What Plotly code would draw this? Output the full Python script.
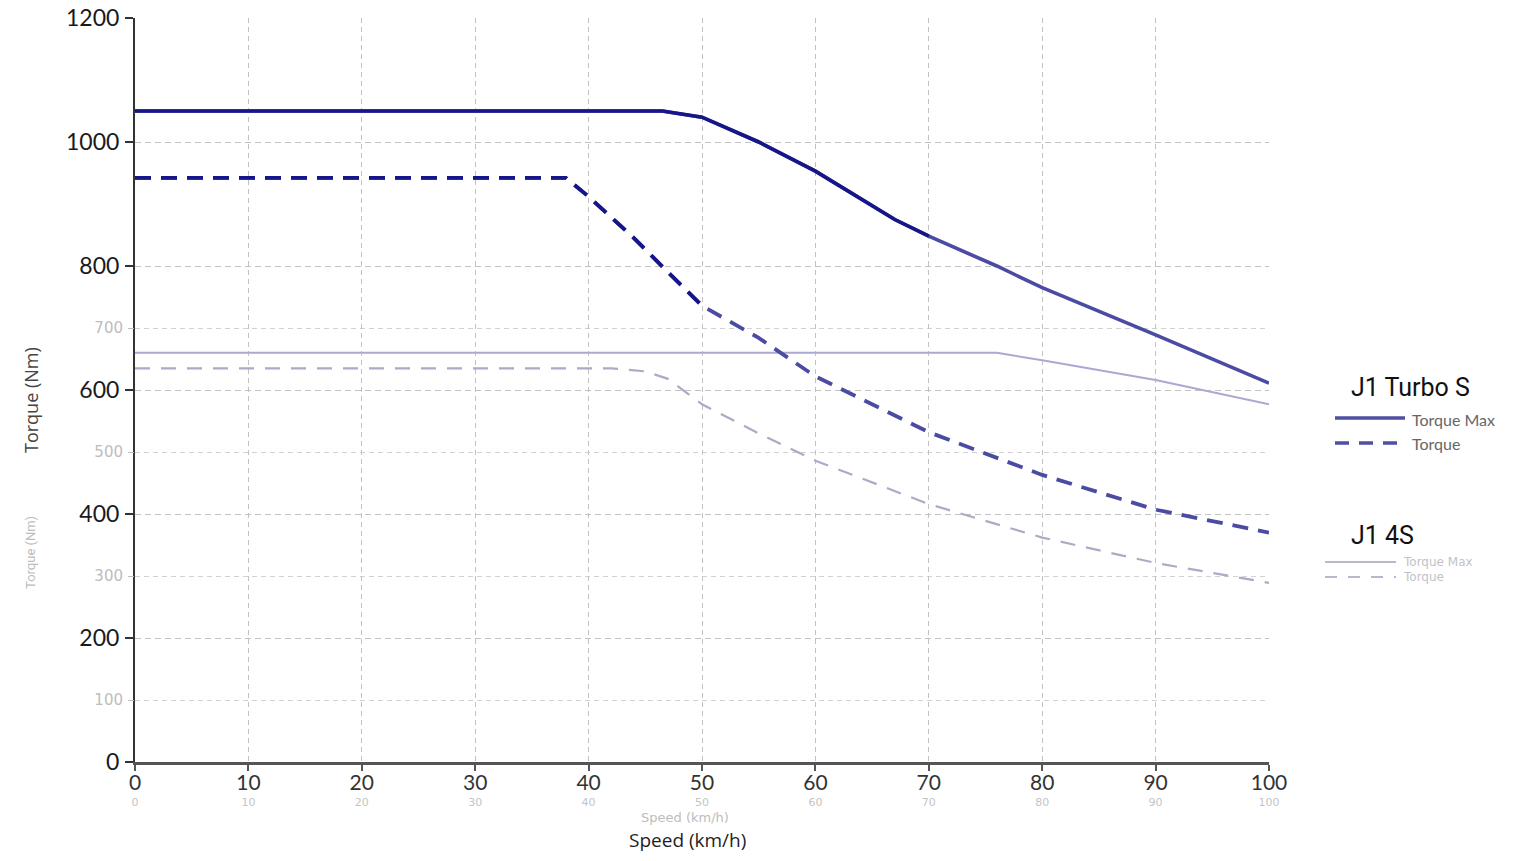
import plotly.graph_objects as go

# ---------------- data ----------------
ts_max_speed = [0, 46.5, 50, 55, 60, 67, 70, 76, 80, 90, 100]
ts_max_torque = [1050, 1050, 1040, 1000, 953, 875, 848, 800, 765, 689, 611]

ts_tq_speed = [0, 38, 40, 44, 47, 50, 55, 60, 70, 78, 80, 90, 100]
ts_tq_torque = [942, 942, 912, 845, 790, 736, 684, 622, 532, 476, 463, 407, 370]

s4_max_speed = [0, 76, 80, 90, 100]
s4_max_torque = [660, 660, 648, 616, 577]

s4_tq_speed = [0, 42, 45, 47, 50, 55, 60, 70, 80, 90, 100]
s4_tq_torque = [635, 635, 630, 618, 577, 530, 486, 416, 362, 321, 289]

x_ticks = [0, 10, 20, 30, 40, 50, 60, 70, 80, 90, 100]
y_ticks_main = [0, 200, 400, 600, 800, 1000, 1200]
y_ticks_light = [100, 300, 500, 700]

# ---------------- styles ----------------
W, H = 1517, 861
L, R, T, B = 135, 248, 18, 99
PW, PH = W - L - R, H - T - B

def px(xp):
    return (xp - L) / PW

def py(yp):
    return (H - B - yp) / PH

NAVY = "#16168a"
PURPLE = "#4b4ba3"
LIGHT_SOLID = "#a9a9d3"
LIGHT_DASH = "#ababc6"
DASH_TS = "16px,10px"
DASH_4S = "15px,11px"

fig = go.Figure()

# J1 4S (light chart) on the base axes x / y
fig.add_trace(go.Scatter(x=s4_max_speed, y=s4_max_torque, mode="lines",
                         name="J1 4S Torque Max", showlegend=False,
                         line=dict(color=LIGHT_SOLID, width=2)))
fig.add_trace(go.Scatter(x=s4_tq_speed, y=s4_tq_torque, mode="lines",
                         name="J1 4S Torque", showlegend=False,
                         line=dict(color=LIGHT_DASH, width=2.2, dash=DASH_4S)))

# J1 Turbo S (dark chart) on the overlay axes x2 / y2
fig.add_trace(go.Scatter(x=ts_max_speed, y=ts_max_torque, mode="lines",
                         name="J1 Turbo S Torque Max", showlegend=False,
                         line=dict(color=PURPLE, width=3.6),
                         xaxis="x2", yaxis="y2"))
fig.add_trace(go.Scatter(x=ts_tq_speed, y=ts_tq_torque, mode="lines",
                         name="J1 Turbo S Torque", showlegend=False,
                         line=dict(color=PURPLE, width=3.8, dash=DASH_TS),
                         xaxis="x2", yaxis="y2"))
# darker tone on the left part (as in the reference)
n_dark_max = 7
n_dark_tq = 6
fig.add_trace(go.Scatter(x=ts_max_speed[:n_dark_max], y=ts_max_torque[:n_dark_max],
                         mode="lines", showlegend=False, hoverinfo="skip",
                         line=dict(color=NAVY, width=3.6),
                         xaxis="x2", yaxis="y2"))
fig.add_trace(go.Scatter(x=ts_tq_speed[:n_dark_tq], y=ts_tq_torque[:n_dark_tq],
                         mode="lines", showlegend=False, hoverinfo="skip",
                         line=dict(color=NAVY, width=3.8, dash=DASH_TS),
                         xaxis="x2", yaxis="y2"))

# ---------------- legend (custom) ----------------
shapes = []
annotations = []

def legend_key(x0, x1, y, color, width, dash=None):
    shapes.append(dict(type="line", xref="paper", yref="paper",
                       x0=px(x0), x1=px(x1), y0=py(y), y1=py(y),
                       line=dict(color=color, width=width, dash=dash or "solid")))

def text(x, y, s, size, color, family, xanchor="left", angle=0):
    annotations.append(dict(x=px(x), y=py(y), xref="paper", yref="paper",
                            text=s, showarrow=False, xanchor=xanchor, yanchor="middle",
                            textangle=angle,
                            font=dict(size=size, color=color, family=family)))

text(1349, 387, "J1 Turbo S", 25, "#111111", "Roboto")
legend_key(1335, 1405, 418, "#4f4fa3", 3.5)
legend_key(1335, 1405, 443, "#4f4fa3", 3.5, "14px,10px")
text(1410, 419, "Torque Max", 16, "#666666", "Lato")
text(1410, 444, "Torque", 16, "#666666", "Lato")

text(1349, 535, "J1 4S", 25, "#111111", "Roboto")
legend_key(1325, 1396, 562, "#b8b8cc", 2)
legend_key(1325, 1396, 577, "#b8b8cc", 2, "12px,11px")
text(1401, 562, "Torque Max", 12, "#c2c2c8", "DejaVu Sans")
text(1401, 577, "Torque", 12, "#c2c2c8", "DejaVu Sans")

# axis titles
text(687, 840, "Speed (km/h)", 19, "#1e1e1e", "Open Sans", xanchor="center")
text(685, 817, "Speed (km/h)", 13, "#bdbdbd", "DejaVu Sans", xanchor="center")
text(31, 400, "Torque (Nm)", 18, "#444444", "Open Sans", xanchor="center", angle=-90)
text(30, 553, "Torque (Nm)", 13, "#bdbdbd", "Roboto", xanchor="center", angle=-90)

GRID = "#c2c2c2"

fig.update_layout(
    width=W, height=H, autosize=False,
    margin=dict(l=L, r=R, t=T, b=B, pad=0, autoexpand=False),
    paper_bgcolor="white", plot_bgcolor="white",
    showlegend=False,
    shapes=shapes, annotations=annotations,
    # light (J1 4S) axes
    xaxis=dict(range=[0, 100], tickmode="array", tickvals=x_ticks,
               tickfont=dict(family="DejaVu Sans", size=11, color="#c4c4c4"),
               ticks="", ticklabelstandoff=32, automargin=False,
               showgrid=False, showline=False, zeroline=False, fixedrange=True),
    yaxis=dict(range=[0, 1200], tickmode="array", tickvals=y_ticks_light,
               tickfont=dict(family="DejaVu Sans", size=15, color="#bdbdbd"),
               ticks="outside", ticklen=6, tickcolor="#bbbbbb",
               ticklabelstandoff=2, automargin=False,
               showgrid=True, gridcolor="#d2d2d2", gridwidth=1.1, griddash="5px,4px",
               showline=False, zeroline=False, fixedrange=True),
    # dark (J1 Turbo S) axes
    xaxis2=dict(range=[0, 100], overlaying="x", anchor="y2", side="bottom",
                tickmode="array", tickvals=x_ticks,
                showline=True, linecolor="#555555", linewidth=2.5,
                ticks="outside", ticklen=6, tickcolor="#555555", tickwidth=1.5,
                tickfont=dict(family="Lato", size=21, color="#333333"),
                ticklabelstandoff=-6, automargin=False,
                showgrid=True, gridcolor=GRID, gridwidth=1.2, griddash="5px,4px",
                zeroline=False, fixedrange=True),
    yaxis2=dict(range=[0, 1200], overlaying="y", anchor="x2", side="left",
                tickmode="array", tickvals=y_ticks_main,
                showline=True, linecolor="#333333", linewidth=2,
                ticks="outside", ticklen=8, tickcolor="#333333", tickwidth=1.5,
                tickfont=dict(family="Lato", size=23, color="#1a1a1a"),
                ticklabelstandoff=1, automargin=False,
                showgrid=True, gridcolor=GRID, gridwidth=1.2, griddash="6px,4px",
                zeroline=False, fixedrange=True),
)

fig.write_html("out.html")
